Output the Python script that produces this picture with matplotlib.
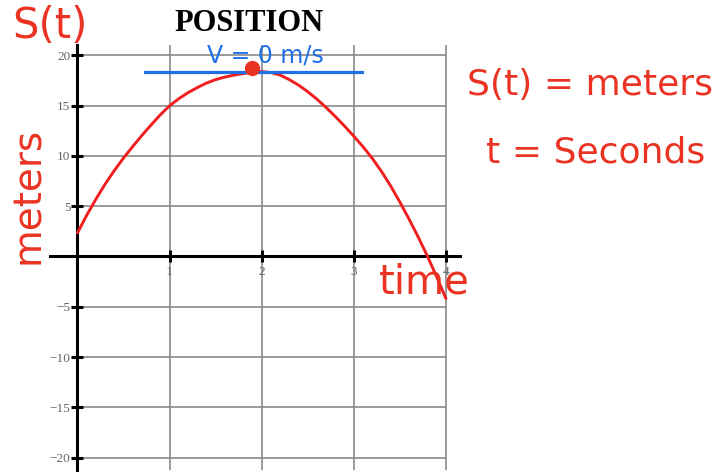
import matplotlib.pyplot as plt

# position readings, s(t) in meters against t in seconds
t_sec = [0.0, 0.1, 0.2, 0.3, 0.4, 0.5, 0.6, 0.7, 0.8, 0.9, 1.0,
         1.1, 1.2, 1.3, 1.4, 1.5, 1.6, 1.7, 1.8, 1.9, 2.0,
         2.1, 2.2, 2.3, 2.4, 2.5, 2.6, 2.7, 2.8, 2.9, 3.0,
         3.1, 3.2, 3.3, 3.4, 3.5, 3.6, 3.7, 3.8, 3.9, 4.0]
s_m = [2.35, 4.1, 5.7, 7.2, 8.55, 9.8, 10.95, 12.05, 13.1, 14.1, 15.0,
       15.7, 16.3, 16.8, 17.25, 17.6, 17.85, 18.05, 18.2, 18.35, 18.4,
       18.3, 18.05, 17.6, 17.05, 16.4, 15.65, 14.82, 13.92, 12.97, 11.97,
       10.92, 9.77, 8.47, 7.02, 5.42, 3.72, 1.92, 0.02, -2.03, -4.18]

x_ticks = [1, 2, 3, 4]
y_ticks = [-20, -15, -10, -5, 5, 10, 15, 20]

# top of the curve, where velocity is zero
peak_t = 1.9
peak_s = 18.75
tangent_s = 18.4
tangent_from, tangent_to = 0.73, 3.09

red = '#ea3323'
blue = '#1f6fe8'
hand = 'DejaVu Sans'

fig = plt.figure(figsize=(7.17, 4.74), dpi=100)
ax = fig.add_axes([0, 0, 1, 1])
ax.set_xlim(-0.841, 6.943)
ax.set_ylim(-21.64, 25.52)

# grid
ax.hlines(y_ticks, 0, max(x_ticks), color='#8a8a8a', lw=1.2, zorder=1)
ax.vlines(x_ticks, -21.2, 21.0, color='#8a8a8a', lw=1.2, zorder=1)

# axes through the origin
for side in ['top', 'right']:
    ax.spines[side].set_visible(False)
ax.spines['left'].set_position(('data', 0))
ax.spines['bottom'].set_position(('data', 0))
ax.spines['left'].set_bounds(-21.2, 21.0)
ax.spines['bottom'].set_bounds(-0.3, 4.15)
for side in ['left', 'bottom']:
    ax.spines[side].set_linewidth(2.2)
    ax.spines[side].set_zorder(3)

ax.set_xticks(x_ticks)
ax.set_yticks(y_ticks)
ax.tick_params(direction='inout', length=9, width=2.2, colors='black',
               labelcolor='#666666', labelsize=9.5)
ax.tick_params(axis='x', pad=2)
ax.tick_params(axis='y', pad=0.5)
for lab in ax.get_xticklabels() + ax.get_yticklabels():
    lab.set_family('Liberation Serif')

ax.text(1.86, 23.2, 'POSITION', ha='center', va='center',
        family='Liberation Serif', weight='bold', size=22)

# position curve
ax.plot(t_sec, s_m, color='#f01e1e', lw=2.1, zorder=4, solid_capstyle='round')

# horizontal tangent at the top
ax.plot([tangent_from, tangent_to], [tangent_s, tangent_s], color=blue, lw=2.3, zorder=5)
ax.plot([peak_t], [peak_s], 'o', color=red, ms=10, zorder=6)
ax.text(2.04, 20.0, 'V = 0 m/s', color=blue, family=hand, size=17,
        ha='center', va='center', zorder=6)

# notes
ax.text(-0.3, 22.9, 'S(t)', color=red, family=hand, size=30, ha='center', va='center')
ax.text(-0.54, 6.1, 'meters', color=red, family=hand, size=28, rotation=90,
        ha='center', va='center')
ax.text(3.77, -2.6, 'time', color=red, family=hand, size=29, ha='center', va='center', zorder=7)
ax.text(5.56, 17.1, 'S(t) = meters', color=red, family=hand, size=26, ha='center', va='center')
ax.text(5.63, 10.3, 't = Seconds', color=red, family=hand, size=26, ha='center', va='center')

fig.savefig('out.png', dpi=100)
